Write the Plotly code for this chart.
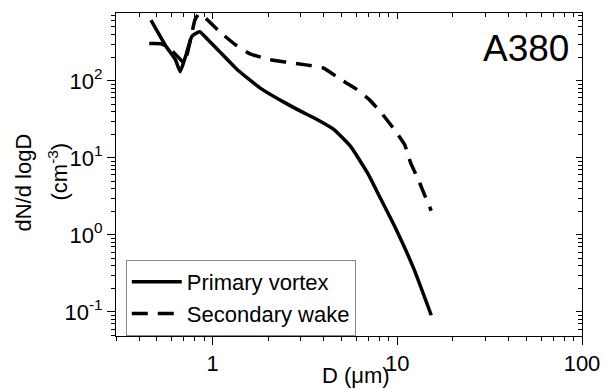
import plotly.graph_objects as go

# Primary vortex (solid)
primary_d = [0.464, 0.557, 0.629, 0.668, 0.713, 0.770, 0.806, 0.853, 0.944, 1.067,
             1.362, 1.803, 2.417, 3.048, 3.614, 4.56, 5.61, 6.90, 8.09, 9.60, 12.25, 15.27]
primary_n = [612, 285, 188, 131, 205, 373, 408, 434, 341, 253,
             139, 81.1, 53.3, 39.5, 32.1, 23.1, 13.9, 6.37, 3.01, 1.34, 0.370, 0.0906]

# Secondary wake (dashed)
secondary_d = [0.454, 0.526, 0.579, 0.688, 0.705, 0.749, 0.803, 0.846, 0.922, 1.089,
               1.329, 1.596, 2.037, 2.507, 3.20, 3.99, 4.91, 5.89, 7.08, 8.19,
               9.60, 10.98, 11.81, 13.02, 14.35, 15.27]
secondary_n = [305, 303, 269, 177, 166, 294, 621, 743, 640, 437,
               294, 224, 188, 175, 161, 146, 105, 80.4, 56.6, 38.4,
               23.6, 14.7, 8.59, 5.16, 2.92, 2.06]

x_ticks = [1, 10, 100]
x_tick_labels = ["1", "10", "100"]
y_ticks = [0.1, 1, 10, 100]
y_tick_labels = ["10<sup>-1</sup>", "10<sup>0</sup>", "10<sup>1</sup>", "10<sup>2</sup>"]
x_range_log = [-0.5229, 2.0]
y_range_log = [-1.312, 2.88]

minor_x = [m * 10 ** e for e in range(-1, 2) for m in range(2, 10)]
minor_y = [m * 10 ** e for e in range(-2, 3) for m in range(2, 10)]

FONT = "Liberation Sans, Arial, sans-serif"

fig = go.Figure()
fig.add_trace(go.Scatter(x=primary_d, y=primary_n, mode="lines", name="Primary vortex",
                         line=dict(color="black", width=3.5, shape="spline", smoothing=0.4)))
fig.add_trace(go.Scatter(x=secondary_d, y=secondary_n, mode="lines", name="Secondary wake",
                         line=dict(color="black", width=3.5, dash="16px,10px",
                                   shape="spline", smoothing=0.4)))
# invisible copies on the mirror axes so the inside ticks on top/right get drawn
fig.add_trace(go.Scatter(x=primary_d, y=primary_n, xaxis="x2", yaxis="y", mode="markers",
                         marker=dict(size=1, opacity=0), showlegend=False, hoverinfo="skip"))
fig.add_trace(go.Scatter(x=primary_d, y=primary_n, xaxis="x", yaxis="y2", mode="markers",
                         marker=dict(size=1, opacity=0), showlegend=False, hoverinfo="skip"))

common = dict(type="log", showgrid=False, zeroline=False, linecolor="black", linewidth=1,
              tickcolor="black", tickwidth=1,
              tickfont=dict(family=FONT, size=22, color="black"))

fig.update_layout(
    width=612, height=389,
    margin=dict(l=116, r=20, t=13, b=53),
    paper_bgcolor="white", plot_bgcolor="white",
    font=dict(family=FONT, color="black", size=22),
    xaxis=dict(**common, range=x_range_log, showline=True, mirror=True,
               tickmode="array", tickvals=x_ticks, ticktext=x_tick_labels,
               ticks="outside", ticklen=8,
               minor=dict(tickmode="array", tickvals=minor_x, ticks="outside",
                          ticklen=4, tickcolor="black", showgrid=False)),
    yaxis=dict(**common, range=y_range_log, showline=True, mirror=True,
               tickmode="array", tickvals=y_ticks, ticktext=y_tick_labels,
               ticks="outside", ticklen=8,
               minor=dict(tickmode="array", tickvals=minor_y, ticks="outside",
                          ticklen=4, tickcolor="black", showgrid=False)),
    xaxis2=dict(**common, range=x_range_log, overlaying="x", side="top", anchor="y",
                showline=True, tickmode="array", tickvals=x_ticks,
                showticklabels=False, ticks="inside", ticklen=6,
                minor=dict(tickmode="array", tickvals=minor_x, ticks="inside",
                           ticklen=4, tickcolor="black", showgrid=False)),
    yaxis2=dict(**common, range=y_range_log, overlaying="y", side="right", anchor="x",
                showline=True, tickmode="array", tickvals=y_ticks,
                showticklabels=False, ticks="inside", ticklen=6,
                minor=dict(tickmode="array", tickvals=minor_y, ticks="inside",
                           ticklen=4, tickcolor="black", showgrid=False)),
    legend=dict(x=0.021, y=0.0, xanchor="left", yanchor="bottom",
                bgcolor="white", bordercolor="#888888", borderwidth=1,
                font=dict(family=FONT, size=22, color="black"),
                itemwidth=50, tracegroupgap=0),
    showlegend=True,
)

fig.add_annotation(text="A380", xref="paper", yref="paper", x=0.976, y=0.889,
                   xanchor="right", yanchor="middle", showarrow=False,
                   font=dict(family=FONT, size=37, color="black"))
fig.add_annotation(text="D (\u03bcm)", xref="paper", yref="paper", x=0.516, y=-0.122,
                   xanchor="center", yanchor="middle", showarrow=False,
                   font=dict(family=FONT, size=22, color="black"))
fig.add_annotation(text="dN/d logD", xref="paper", yref="paper", x=-0.1975, y=0.475,
                   xanchor="center", yanchor="middle", textangle=-90, showarrow=False,
                   font=dict(family=FONT, size=22, color="black"))
fig.add_annotation(text="(cm<sup>-3</sup>)", xref="paper", yref="paper", x=-0.124, y=0.51,
                   xanchor="center", yanchor="middle", textangle=-90, showarrow=False,
                   font=dict(family=FONT, size=22, color="black"))

fig.write_html("out.html")
